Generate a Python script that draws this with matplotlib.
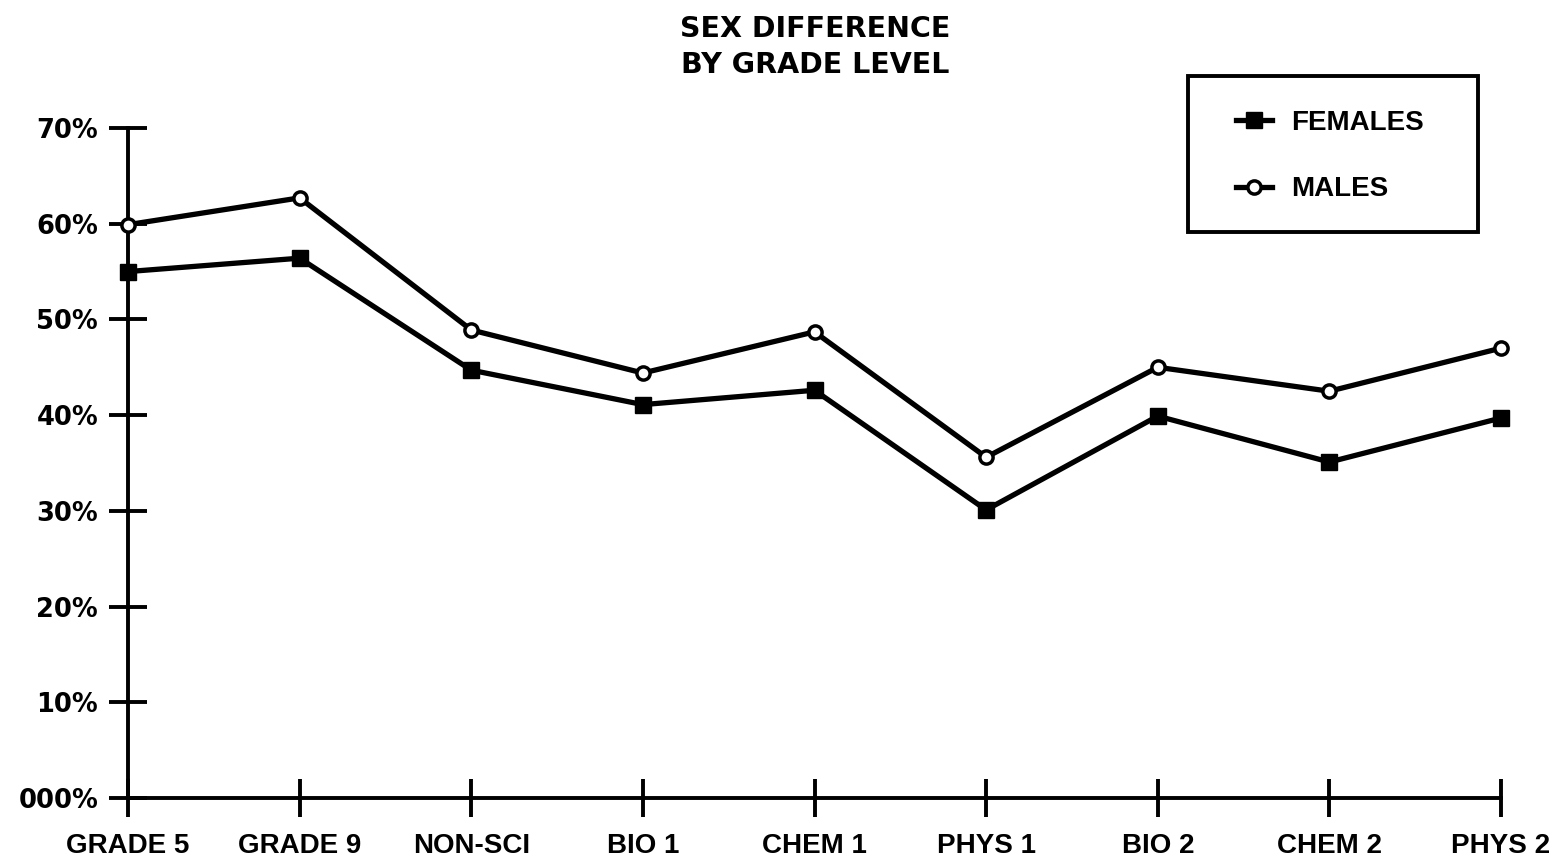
import matplotlib
matplotlib.use("Agg")
import matplotlib.pyplot as plt
from matplotlib.patches import Rectangle
import numpy as np

categories = ["GRADE 5", "GRADE 9", "NON-SCI", "BIO 1", "CHEM 1",
              "PHYS 1", "BIO 2", "CHEM 2", "PHYS 2"]
females = [55.0, 56.4, 44.7, 41.1, 42.6, 30.1, 39.9, 35.1, 39.7]
males = [59.9, 62.7, 48.9, 44.4, 48.7, 35.6, 45.0, 42.5, 47.0]
ytick_vals = [0, 10, 20, 30, 40, 50, 60, 70]
ytick_labels = ["000%", "10%", "20%", "30%", "40%", "50%", "60%", "70%"]

plt.rcParams['font.family'] = ['Liberation Sans', 'DejaVu Sans']

W, H = 1556, 860
fig = plt.figure(figsize=(W / 100, H / 100), dpi=100)
ax = fig.add_axes([128/W, 62/H, (1501-128)/W, (798-128)/H])

x = np.arange(len(categories))
ax.plot(x, females, color="black", lw=3.8, marker="s", ms=11.5,
        mfc="black", mec="black", label="FEMALES", clip_on=False, zorder=3)
ax.plot(x, males, color="black", lw=3.8, marker="o", ms=9.5,
        mfc="white", mec="black", mew=2.5, label="MALES", clip_on=False, zorder=3)

ax.set_xlim(0, len(categories) - 1)
ax.set_ylim(0, 70)
ax.set_xticks(x)
ax.set_xticklabels(categories, fontsize=20, fontweight="bold",
                   family="Liberation Sans")
ax.set_yticks(ytick_vals)
ax.set_yticklabels(ytick_labels, fontsize=18.5, fontweight="bold",
                   family="DejaVu Sans")
ax.tick_params(axis="both", direction="inout", length=27, width=2.8, color="black")
ax.tick_params(axis="x", pad=12)
ax.tick_params(axis="y", pad=8)

for s in ["top", "right"]:
    ax.spines[s].set_visible(False)
for s in ["left", "bottom"]:
    ax.spines[s].set_linewidth(2.8)

fig.text(815/W, 1 - 29/H, "SEX DIFFERENCE", ha="center", va="center",
         fontsize=20.5, fontweight="bold", family="DejaVu Sans")
fig.text(815/W, 1 - 65/H, "BY GRADE LEVEL", ha="center", va="center",
         fontsize=20.5, fontweight="bold", family="DejaVu Sans")

# legend box
fig.patches.append(Rectangle((1188/W, 1 - 232/H), (1478-1188)/W, (232-76)/H,
                             transform=fig.transFigure, fill=False,
                             edgecolor="black", linewidth=2.8))
leg = fig.legend(loc="upper left", bbox_to_anchor=(1236/W, 1 - 110/H),
                 prop={"family": "Liberation Sans", "weight": "bold", "size": 20},
                 frameon=False, handlelength=1.3, handletextpad=0.7,
                 borderpad=0, labelspacing=1.45, borderaxespad=0)

fig.savefig("out.png", dpi=100)
